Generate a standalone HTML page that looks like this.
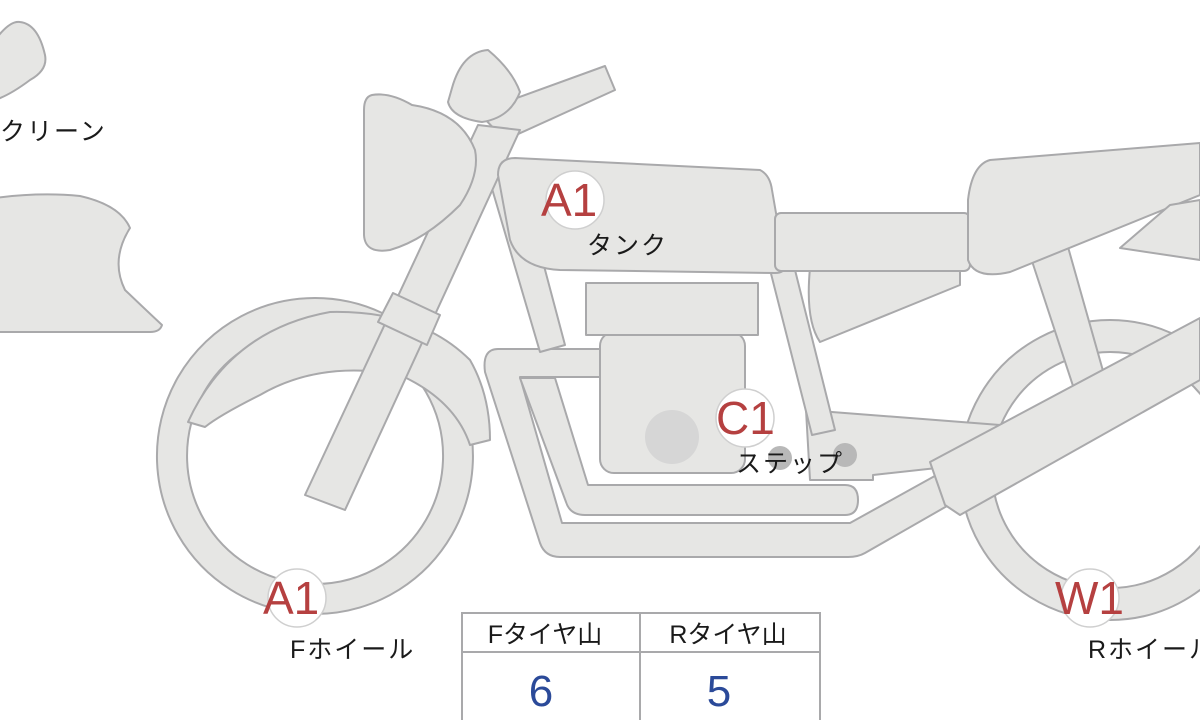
<!DOCTYPE html>
<html><head><meta charset="utf-8"><style>
html,body{margin:0;padding:0;background:#fff;}
svg{display:block;}
text{font-family:"Liberation Sans","Noto Sans CJK JP",sans-serif;}
</style></head><body>
<svg width="1200" height="720" viewBox="0 0 1200 720" xmlns="http://www.w3.org/2000/svg">
<g fill="#e6e6e4" stroke="#a9a9ab" stroke-width="2" stroke-linejoin="round">
<path d="M-5 40 Q10 20 20 22 Q38 24 45 55 Q48 70 30 80 Q10 95 -5 100 Z"/>
<path d="M-5 198 Q40 192 80 196 Q120 205 130 228 Q110 260 125 290 Q148 312 162 325 Q160 332 150 332 L-5 332 Z"/>
<path fill-rule="evenodd" d="M1110 320 A150 150 0 1 1 1109.9 320 Z M1110 352 A118 118 0 1 0 1110.1 352 Z"/>
<path fill-rule="evenodd" d="M315 298 A158 158 0 1 1 314.9 298 Z M315 328 A128 128 0 1 0 315.1 328 Z"/>
<path d="M188 422 Q230 330 330 312 Q420 310 470 360 Q490 395 490 440 L470 445 Q455 400 400 375 Q320 360 260 395 Q220 415 205 427 Z"/>
<path d="M1030 255 L1068 247 L1107 385 L1075 392 Z"/>
<path d="M498 349 L610 349 L610 377 L520 377 L562 523 L850 523 L960 462 L975 490 L865 553 Q858 557 848 557 L560 557 Q545 557 540 543 L485 372 Q482 349 498 349 Z"/>
<path d="M520 378 L555 378 L588 485 L845 485 Q858 485 858 500 Q858 515 845 515 L585 515 Q570 515 566 502 Z"/>
<path d="M806 410 L1000 425 L1010 460 L873 475 L873 480 L810 480 Z"/>
<rect x="600" y="332" width="145" height="141" rx="14"/>
<rect x="586" y="283" width="172" height="52"/>
<path d="M488 175 L518 168 L565 345 L540 352 Z"/>
<path d="M765 250 L790 250 L835 430 L812 435 Z"/>
<path d="M810 268 L960 268 L960 285 L820 342 Q805 320 810 268 Z"/>
<path d="M478 112 L605 66 L615 90 L505 140 Z"/>
<path d="M452 88 Q462 52 488 50 Q512 70 520 92 Q510 118 482 122 Q452 118 448 102 Z"/>
<path d="M478 125 L520 130 L345 510 L305 495 Z"/>
<path d="M393 293 L440 315 L427 345 L378 322 Z"/>
<path d="M372 95 Q390 92 412 105 Q460 112 475 150 Q480 175 460 205 Q425 240 390 250 Q365 254 364 235 L364 110 Q364 97 372 95 Z"/>
<path d="M515 158 L760 170 Q770 175 772 190 L785 265 Q785 273 775 273 L560 270 Q520 268 510 240 L498 175 Q498 158 515 158 Z"/>
<rect x="775" y="213" width="195" height="58" rx="6"/>
<path d="M990 160 L1200 143 L1200 195 L1010 272 Q975 280 968 260 L968 200 Q972 165 990 160 Z"/>
<path d="M1170 205 L1200 200 L1200 260 L1120 248 Z"/>
<path d="M930 462 L1200 318 L1200 380 L960 515 L945 505 Z"/>
</g>
<circle cx="672" cy="437" r="27" fill="#d6d6d6"/>
<circle cx="780" cy="458" r="12" fill="#b8b8b8"/>
<circle cx="845" cy="455" r="12" fill="#b8b8b8"/>
<g fill="#fff" stroke="#cfcfcf" stroke-width="1.5">
<circle cx="575" cy="200" r="29"/>
<circle cx="297" cy="598" r="29"/>
<circle cx="745" cy="418" r="29"/>
<circle cx="1090" cy="598" r="29"/>
</g>
<g fill="#b54040" font-size="46">
<text x="541" y="216">A1</text>
<text x="263" y="614">A1</text>
<text x="716" y="434">C1</text>
<text x="1055" y="614">W1</text>
</g>
<g fill="#1a1a1a" font-size="25" letter-spacing="2">
<text x="0" y="140">クリーン</text>
<text x="587" y="254">タンク</text>
<text x="736" y="472">ステップ</text>
<text x="290" y="658">Fホイール</text>
<text x="1088" y="658">Rホイール</text>
</g>
<g fill="none" stroke="#a9a9ab" stroke-width="2">
<rect x="462" y="613" width="358" height="110"/>
<line x1="462" y1="652" x2="820" y2="652"/>
<line x1="640" y1="613" x2="640" y2="720"/>
</g>
<g font-size="25" fill="#1a1a1a" text-anchor="middle">
<text x="545" y="643">Fタイヤ山</text>
<text x="728" y="643">Rタイヤ山</text>
</g>
<g font-size="44" fill="#2b4a99" text-anchor="middle">
<text x="541" y="706">6</text>
<text x="719" y="706">5</text>
</g>
</svg>
</body></html>
